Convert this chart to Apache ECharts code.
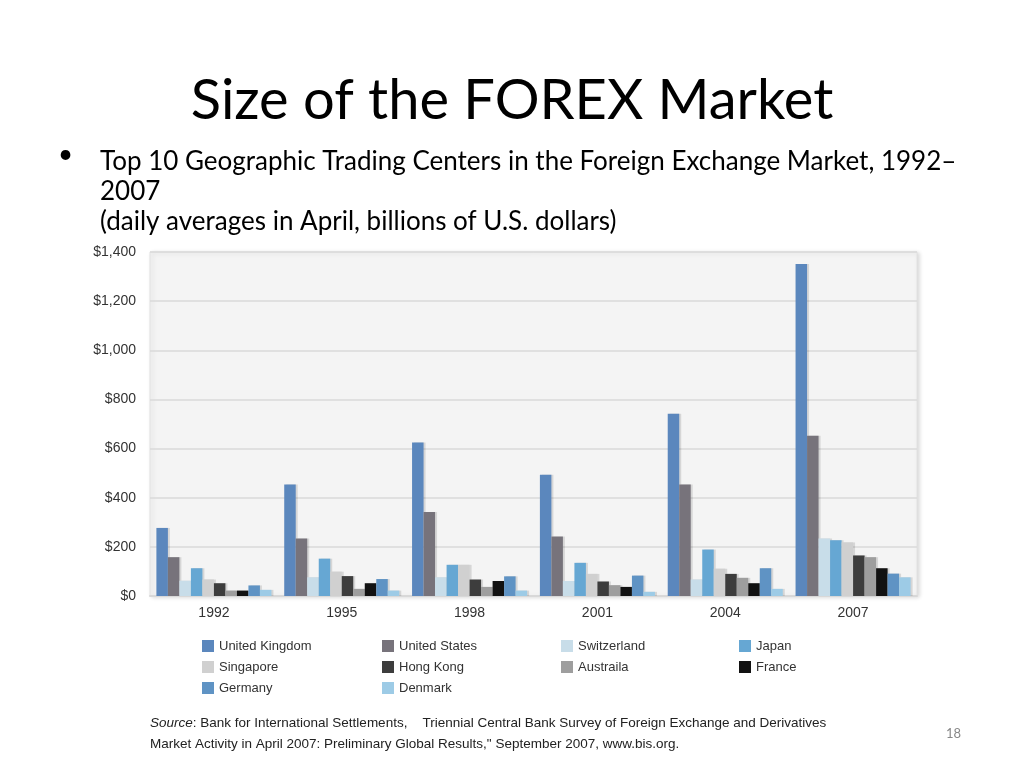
<!DOCTYPE html>
<html>
<head>
<meta charset="utf-8">
<title>Size of the FOREX Market</title>
<script src="https://cdn.jsdelivr.net/npm/echarts@6/dist/echarts.min.js"></script>
<style>
  html, body { margin: 0; padding: 0; background: #ffffff; }
  #chart { width: 1024px; height: 768px; }
</style>
</head>
<body>
<div id="chart"></div>
<script>
var years = ['1992', '1995', '1998', '2001', '2004', '2007'];
var yTicks = [0, 200, 400, 600, 800, 1000, 1200, 1400];

var unitedKingdom = [277, 454, 625, 493, 742, 1351];
var unitedStates  = [158, 234, 342, 242, 454, 652];
var switzerland   = [62, 76, 76, 61, 67, 234];
var japan         = [113, 152, 127, 135, 189, 227];
var singapore     = [67, 99, 127, 90, 111, 218];
var hongKong      = [52, 81, 67, 59, 90, 165];
var australia     = [22, 29, 37, 44, 74, 158];
var france        = [22, 52, 61, 37, 52, 113];
var germany       = [43, 69, 80, 83, 113, 91];
var denmark       = [25, 22, 22, 17, 29, 76];

var names  = ['United Kingdom', 'United States', 'Switzerland', 'Japan', 'Singapore',
              'Hong Kong', 'Austraila', 'France', 'Germany', 'Denmark'];
var values = [unitedKingdom, unitedStates, switzerland, japan, singapore,
              hongKong, australia, france, germany, denmark];
var colors = ['#5b87bd', '#77737b', '#c8dde9', '#66a7d3', '#d0d0d0',
              '#3d3d3d', '#9e9e9e', '#121212', '#5f93c4', '#9dcbe6'];

var myChart = echarts.init(document.getElementById('chart'));

var series = names.map(function (n, i) {
    return {
        name: n,
        type: 'bar',
        barGap: '0%',
        barCategoryGap: '10%',
        itemStyle: {
            color: colors[i],
            shadowColor: 'rgba(0,0,0,0.12)',
            shadowOffsetX: 2,
            shadowBlur: 0
        },
        data: values[i]
    };
});

// legend laid out as 4 columns like the original
var legendFont = { fontFamily: 'Liberation Sans, sans-serif', fontSize: 13, color: '#333', lineHeight: 14 };
function col(list, left) {
    return {
        data: list, orient: 'vertical', left: left, top: 634,
        itemWidth: 12, itemHeight: 12, itemGap: 7,
        icon: 'rect', selectedMode: false, textStyle: legendFont
    };
}

var option = {
    backgroundColor: '#ffffff',
    animation: false,
    title: [{
        text: 'Size of the FOREX Market',
        left: 'center', top: 68,
        textStyle: { fontFamily: 'Lato, sans-serif', fontWeight: 'normal', fontSize: 56, color: '#000' }
    }],
    graphic: [
        { type: 'text', left: 58, top: 142, style: { text: '•', font: '26px Lato, sans-serif', fill: '#000' } },
        { type: 'text', left: 100, top: 147, style: {
            text: 'Top 10 Geographic Trading Centers in the Foreign Exchange Market, 1992–\n2007\n(daily averages in April, billions of U.S. dollars)',
            font: '26px Lato, sans-serif', lineHeight: 30, fill: '#000' } },
        { type: 'text', left: 150, top: 713, style: {
            text: '{i|Source}: Bank for International Settlements,    Triennial Central Bank Survey of Foreign Exchange and Derivatives\nMarket Activity in April 2007: Preliminary Global Results," September 2007, www.bis.org.',
            font: '13.5px Liberation Sans, sans-serif', lineHeight: 21, fill: '#222',
            rich: { i: { fontStyle: 'italic', fontSize: 13.5, fontFamily: 'Liberation Sans, sans-serif' } } } },
        { type: 'text', left: 946, top: 727, style: { text: '18', font: '13px Lato, sans-serif', fill: '#888' } }
    ],
    legend: [
        col(['United Kingdom', 'Singapore', 'Germany'], 197),
        col(['United States', 'Hong Kong', 'Denmark'], 377),
        col(['Switzerland', 'Austraila'], 556),
        col(['Japan', 'France'], 734)
    ],
    grid: {
        left: 150, right: 107, top: 252, bottom: 172,
        show: true, backgroundColor: '#f4f4f4', borderColor: '#e2e2e2', borderWidth: 1,
        shadowColor: 'rgba(0,0,0,0.15)', shadowBlur: 4, shadowOffsetX: 2, shadowOffsetY: 1
    },
    xAxis: {
        type: 'category',
        data: years,
        axisTick: { show: false },
        axisLine: { lineStyle: { color: '#d8d8d8', width: 2 } },
        axisLabel: { margin: 10, fontSize: 14, color: '#333', fontFamily: 'Liberation Sans, sans-serif' }
    },
    yAxis: {
        type: 'value',
        min: yTicks[0], max: yTicks[yTicks.length - 1], interval: 200,
        axisLine: { show: false },
        axisTick: { show: false },
        splitLine: { lineStyle: { color: '#dadada', width: 1.5 } },
        axisLabel: {
            margin: 14, fontSize: 14, color: '#333',
            fontFamily: 'Liberation Sans, sans-serif',
            formatter: function (v) { return '$' + v.toLocaleString('en-US'); }
        }
    },
    series: series
};

myChart.setOption(option);
</script>
</body>
</html>
